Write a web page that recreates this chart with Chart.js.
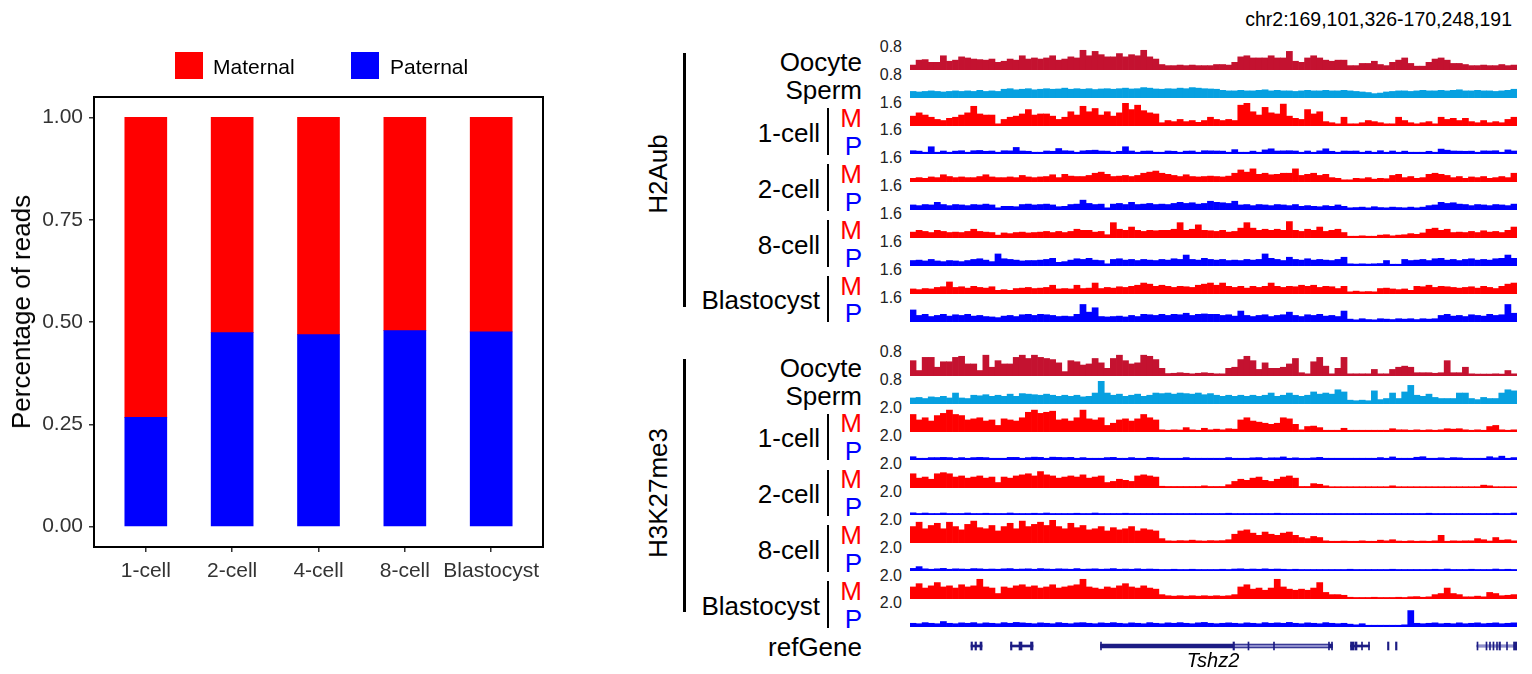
<!DOCTYPE html>
<html>
<head>
<meta charset="utf-8">
<script src="https://cdn.jsdelivr.net/npm/chart.js@4.4.1/dist/chart.umd.min.js"></script>
<style>
  html, body { margin: 0; padding: 0; background: #fff; }
  #fig { position: relative; width: 1532px; height: 674px; overflow: hidden;
         font-family: 'Liberation Sans', Arial, sans-serif; color: #000; }
  #fig canvas { position: absolute; display: block; }
  .t { position: absolute; white-space: nowrap; line-height: 1; }
  .rule { position: absolute; background: #000; }
</style>
</head>
<body>
<div id="fig"></div>
<script>
// ---------- Parental read share per stage ----------
const stages = ['1-cell', '2-cell', '4-cell', '8-cell', 'Blastocyst'];
const paternal = [0.267, 0.474, 0.469, 0.479, 0.476];
const maternal = [0.733, 0.526, 0.531, 0.521, 0.524];
const yTicks = [0, 0.25, 0.5, 0.75, 1];

// ---------- Browser view ----------
const region = 'chr2:169,101,326-170,248,191';
const regionStart = 169.101326, regionEnd = 170.248191;   // Mb
const stageLabels = ['1-cell', '2-cell', '8-cell', 'Blastocyst'];

// H2Aub signal, 100 bins across the region
const h2aOocyte = [.14,.32,.34,.24,.24,.48,.28,.32,.44,.4,.36,.34,.32,.36,.24,.28,.36,.32,.48,.36,.4,.36,.4,.48,.32,.36,.44,.4,.68,.48,.64,.52,.44,.44,.56,.44,.52,.48,.68,.44,.36,.16,.12,.12,.14,.12,.14,.12,.12,.12,
  .16,.16,.14,.24,.44,.48,.4,.4,.4,.48,.4,.4,.64,.28,.24,.4,.48,.4,.32,.28,.32,.32,.12,.12,.2,.2,.28,.16,.12,.24,.32,.4,.2,.1,.1,.24,.36,.4,.32,.2,.2,.16,.12,.12,.14,.12,.12,.16,.12,.14];
const h2aSperm = [.2,.18,.2,.22,.2,.18,.2,.22,.2,.22,.2,.24,.2,.22,.2,.28,.3,.26,.28,.3,.26,.28,.3,.28,.29,.32,.28,.3,.28,.3,.27,.29,.3,.28,.3,.32,.29,.3,.34,.32,.29,.28,.3,.29,.32,.3,.34,.32,.3,.29,
  .28,.24,.22,.22,.24,.22,.22,.24,.26,.22,.24,.22,.22,.2,.22,.24,.22,.22,.24,.22,.22,.24,.22,.2,.18,.16,.12,.14,.18,.2,.22,.22,.2,.22,.24,.22,.22,.24,.22,.24,.26,.22,.22,.24,.22,.22,.2,.22,.24,.28];
const h2a1cM = [.64,.88,.72,.56,.4,.32,.48,.56,.72,.88,1.36,.8,.72,.72,.08,.4,.56,.64,.8,1.12,.72,.8,.8,.64,.4,.56,.96,.72,1.36,.96,1.2,.72,.96,.64,.88,1.6,1.12,1.44,1.04,.88,.8,.16,.32,.24,.4,.24,.32,.19,.32,.56,
  .4,.32,.4,.32,1.44,1.6,.96,.72,1.28,.88,.8,1.52,.64,.48,.4,1.12,.8,.96,.24,.16,.08,.56,.08,.08,.16,.32,.24,.16,.08,.08,.56,.32,.16,.08,.16,.24,.08,.56,.4,.48,.32,.48,.24,.16,.32,.16,.24,.16,.4,.56];
const h2a1cP = [.16,.13,.05,.45,.05,.14,.05,.13,.16,.05,.16,.18,.12,.14,.05,.16,.15,.4,.14,.12,.05,.05,.14,.12,.32,.16,.14,.05,.15,.18,.2,.14,.13,.05,.12,.45,.14,.05,.13,.14,.05,.05,.14,.12,.05,.13,.14,.05,.16,.15,
  .14,.13,.05,.24,.05,.05,.13,.05,.22,.3,.14,.15,.16,.14,.05,.14,.05,.15,.3,.12,.05,.14,.13,.14,.05,.13,.05,.16,.05,.14,.05,.13,.05,.05,.05,.12,.05,.28,.2,.14,.13,.12,.13,.05,.15,.14,.16,.05,.22,.14];
const h2a2cM = [.19,.24,.19,.29,.24,.45,.32,.24,.29,.24,.24,.32,.45,.29,.24,.24,.29,.24,.4,.29,.24,.29,.32,.45,.24,.48,.35,.32,.32,.4,.56,.64,.48,.32,.35,.4,.32,.4,.56,.64,.72,.56,.48,.4,.32,.45,.32,.29,.32,.35,
  .32,.29,.35,.56,.8,.64,.88,.48,.56,.45,.48,.56,.56,.88,.4,.48,.56,.4,.48,.24,.19,.08,.08,.19,.16,.24,.13,.19,.16,.4,.48,.24,.32,.19,.24,.48,.56,.48,.4,.24,.32,.19,.29,.24,.32,.19,.24,.32,.24,.56];
const h2a2cP = [.29,.24,.32,.29,.48,.32,.24,.32,.29,.24,.32,.29,.35,.29,.08,.19,.19,.16,.32,.35,.29,.32,.35,.29,.16,.19,.32,.35,.64,.4,.32,.35,.08,.35,.4,.32,.48,.32,.35,.4,.32,.35,.32,.4,.48,.4,.45,.35,.4,.56,
  .48,.45,.4,.56,.29,.32,.24,.32,.29,.24,.32,.29,.24,.32,.19,.24,.19,.16,.24,.19,.29,.19,.08,.1,.13,.08,.16,.1,.08,.13,.1,.08,.13,.08,.13,.24,.29,.48,.4,.45,.35,.32,.24,.32,.29,.24,.32,.29,.24,.35];
const h2a8cM = [.35,.48,.4,.32,.48,.4,.32,.35,.32,.4,.56,.4,.35,.32,.13,.29,.24,.32,.35,.29,.32,.35,.4,.32,.4,.32,.4,.56,.48,.48,.35,.4,.16,1.04,.56,.48,.72,.48,.4,.48,.45,.48,.48,.56,1.04,.48,.56,.88,.48,.45,
  .4,.48,.35,.4,.64,1.04,.64,.48,.56,.48,.56,.48,1.12,.48,.4,.56,.48,.72,.4,.48,.56,.32,.05,.05,.08,.05,.05,.13,.16,.08,.13,.16,.24,.19,.29,.56,.64,.48,.56,.32,.35,.32,.4,.32,.45,.35,.4,.32,.48,.72];
const h2a8cP = [.32,.35,.29,.4,.29,.24,.32,.29,.24,.32,.4,.45,.35,.24,.8,.45,.4,.35,.29,.32,.32,.35,.4,.48,.19,.24,.35,.45,.4,.48,.35,.32,.08,.4,.45,.35,.4,.32,.4,.35,.32,.4,.35,.45,.4,.72,.4,.35,.48,.4,
  .35,.4,.32,.35,.32,.4,.35,.4,.8,.48,.4,.32,.56,.4,.35,.45,.35,.4,.35,.32,.4,.56,.08,.06,.08,.06,.08,.1,.32,.05,.05,.4,.32,.35,.4,.32,.45,.48,.35,.4,.32,.4,.45,.35,.4,.35,.45,.48,.72,.48];
const h2aBlM = [.29,.24,.32,.29,.4,.45,.8,.4,.45,.35,.48,.4,.35,.45,.19,.24,.19,.32,.35,.4,.32,.35,.4,.56,.29,.32,.29,.56,.32,.35,.72,.32,.4,.35,.45,.4,.48,.56,.72,.64,.48,.56,.48,.4,.48,.45,.4,.56,.64,.72,
  .56,.72,.48,.4,.48,.35,.48,.4,.48,.72,.48,.4,.48,.45,.56,.48,.56,.4,.48,.45,.32,.48,.08,.13,.08,.1,.08,.32,.35,.29,.24,.29,.19,.48,.45,.56,.4,.48,.45,.4,.35,.4,.45,.35,.48,.4,.32,.48,.64,.72];
const h2aBlP = [.8,.4,.48,.32,.4,.48,.35,.45,.4,.48,.35,.4,.32,.29,.24,.35,.4,.32,.45,.48,.4,.48,.45,.4,.32,.35,.32,.48,1.2,.64,.96,.32,.29,.32,.35,.29,.4,.32,.48,.45,.4,.48,.4,.48,.45,.56,.4,.48,.51,.48,
  .48,.4,.45,.35,.72,.4,.32,.4,.45,.32,.4,.45,.64,.4,.32,.45,.4,.48,.35,.4,.32,.72,.13,.08,.16,.1,.08,.16,.13,.1,.16,.13,.16,.1,.16,.13,.16,.4,.48,.35,.4,.32,.45,.4,.35,.48,.4,.45,1.2,.56];

// H3K27me3 signal, 100 bins across the region
const k27Oocyte = [.52,.16,.64,.64,.28,.48,.48,.64,.68,.4,.4,.16,.72,.28,.52,.4,.4,.64,.72,.6,.72,.64,.6,.56,.44,.12,.52,.48,.36,.4,.6,.44,.24,.6,.72,.52,.4,.44,.72,.68,.56,.24,.05,.06,.08,.06,.04,.06,.08,.06,
  .04,.04,.24,.28,.56,.68,.52,.2,.44,.24,.24,.28,.4,.6,.08,.04,.48,.64,.32,.04,.24,.64,.04,.04,.04,.04,.2,.04,.04,.2,.28,.32,.28,.08,.08,.08,.06,.08,.52,.08,.08,.28,.04,.03,.03,.03,.04,.03,.16,.04];
const k27Sperm = [.18,.2,.16,.22,.2,.24,.18,.36,.18,.16,.28,.26,.3,.24,.28,.24,.32,.24,.34,.32,.3,.28,.32,.28,.24,.28,.24,.28,.22,.24,.36,.8,.36,.28,.32,.24,.28,.32,.24,.28,.36,.34,.36,.32,.36,.34,.32,.36,.3,.34,
  .28,.24,.28,.24,.28,.24,.28,.24,.28,.36,.24,.28,.36,.28,.24,.28,.4,.32,.36,.32,.48,.4,.1,.08,.1,.08,.44,.12,.16,.36,.16,.4,.64,.28,.24,.32,.2,.16,.16,.16,.36,.36,.16,.12,.2,.16,.16,.36,.48,.44];
const k271cM = [1.5,1.0,1.2,.9,1.4,1.6,1.9,1.5,1.4,1.0,1.1,1.2,.9,1.0,.5,1.1,1.0,.9,1.2,1.7,1.9,1.6,1.7,1.8,1.0,1.1,.9,1.2,1.9,1.1,1.0,1.2,.5,.7,1.0,1.1,.9,1.1,1.5,1.2,1.0,.1,.06,.1,.08,.3,.1,.06,.24,.1,
  .16,.1,.2,.16,1.0,1.2,.9,.8,.7,.6,.7,1.2,1.1,.6,.1,.4,.44,.3,.06,.06,.06,.24,.06,.06,.06,.06,.06,.06,.06,.2,.1,.1,.06,.1,.06,.1,.06,.1,.2,.16,.2,.1,.06,.1,.06,.4,.5,.1,.06,.1];
const k271cP = [.2,.06,.06,.12,.12,.14,.12,.06,.12,.06,.12,.14,.12,.06,.06,.06,.14,.14,.06,.12,.16,.14,.06,.16,.14,.12,.14,.06,.12,.06,.06,.06,.12,.14,.06,.06,.12,.06,.06,.14,.12,.06,.06,.06,.06,.12,.06,.06,.06,.06,
  .06,.06,.12,.06,.06,.06,.1,.12,.06,.1,.1,.18,.06,.1,.06,.06,.1,.14,.06,.06,.06,.06,.06,.06,.06,.06,.06,.12,.06,.18,.06,.06,.06,.15,.2,.06,.06,.1,.06,.12,.1,.06,.06,.06,.06,.2,.1,.25,.06,.12];
const k272cM = [1.2,.8,.9,.7,1.2,1.3,1.2,.9,1.0,.8,.9,1.0,.8,.9,.4,.9,.8,1.0,1.1,1.2,1.0,1.4,1.1,1.0,.8,.9,1.0,.9,1.1,.8,.9,1.0,.4,.5,.7,.6,.5,1.0,1.1,1.0,.9,.06,.04,.04,.04,.04,.04,.04,.1,.04,
  .04,.04,.2,.5,.7,.6,.8,.9,.6,.5,.7,.9,1.0,.8,.04,.04,.3,.24,.1,.02,.02,.02,.02,.02,.02,.02,.02,.02,.02,.1,.02,.02,.02,.02,.02,.02,.02,.02,.02,.02,.02,.02,.02,.02,.16,.1,.02,.02,.02,.02];
const k272cP = [.1,.04,.08,.04,.04,.08,.04,.04,.04,.08,.04,.04,.06,.04,.04,.04,.08,.04,.04,.04,.06,.04,.08,.04,.04,.04,.04,.06,.04,.04,.08,.04,.04,.04,.04,.06,.04,.04,.04,.04,.04,.04,.04,.04,.04,.04,.04,.04,.04,.04,
  .04,.04,.06,.04,.04,.04,.04,.04,.04,.04,.06,.04,.04,.04,.04,.04,.04,.04,.04,.04,.04,.04,.04,.04,.04,.04,.04,.04,.04,.04,.04,.04,.04,.04,.04,.06,.04,.04,.04,.04,.04,.04,.04,.04,.04,.04,.06,.04,.04,.08];
const k278cM = [1.4,1.8,1.2,1.5,1.7,1.2,1.8,1.4,1.1,1.6,1.9,1.3,1.2,1.5,1.0,1.4,1.7,1.2,1.9,1.4,1.6,1.8,1.5,2.0,1.4,1.2,1.7,1.3,1.5,1.1,1.2,1.4,1.0,1.3,1.1,1.2,1.4,1.0,1.2,1.1,1.0,.3,.1,.08,.12,.1,.16,.1,.08,.12,
  .1,.12,.2,.7,1.0,1.1,.8,.6,.9,.7,.6,.8,.9,.6,.4,.3,.5,.4,.1,.06,.06,.08,.06,.06,.1,.06,.06,.16,.1,.2,.08,.06,.1,.06,.08,.06,.1,.6,.06,.1,.08,.1,.1,.3,.2,.08,.4,.16,.2,.1];
const k278cP = [.14,.3,.1,.06,.1,.14,.06,.1,.08,.06,.12,.1,.06,.08,.06,.1,.12,.06,.08,.1,.06,.12,.08,.06,.1,.08,.06,.12,.06,.08,.1,.06,.08,.12,.06,.08,.06,.1,.06,.08,.06,.04,.04,.06,.04,.04,.06,.04,.04,.04,
  .04,.06,.04,.08,.1,.06,.08,.06,.1,.06,.08,.06,.04,.06,.04,.04,.04,.04,.04,.04,.04,.04,.06,.04,.04,.04,.04,.04,.04,.06,.04,.04,.04,.04,.04,.04,.06,.04,.08,.04,.04,.04,.06,.04,.04,.04,.08,.04,.06,.04];
const k27BlM = [1.0,1.3,.9,1.1,1.4,1.0,1.1,.9,1.2,1.0,1.1,1.7,1.0,.9,.4,1.0,.9,1.1,1.2,1.0,1.1,.9,1.0,1.2,.9,1.0,1.1,1.2,1.7,1.0,.9,.8,1.0,.9,1.1,1.3,1.0,.9,1.1,.9,.8,.3,.2,.16,.2,.16,.2,.16,.2,.16,
  .2,.16,.2,.3,1.0,1.2,.8,.9,.7,.9,1.7,1.0,.8,.7,.8,.7,.9,1.4,.5,.3,.3,.24,.06,.04,.04,.04,.06,.04,.04,.04,.06,.04,.1,.12,.06,.1,.3,.4,.9,.4,.3,.1,.1,.16,.1,.5,.4,.2,.24,.3];
const k27BlP = [.24,.2,.3,.24,.2,.4,.24,.2,.28,.24,.3,.2,.28,.24,.2,.3,.24,.32,.28,.24,.2,.28,.24,.2,.3,.24,.2,.28,.3,.24,.2,.28,.24,.3,.24,.2,.28,.24,.2,.3,.24,.2,.28,.24,.3,.24,.2,.28,.32,.24,
  .2,.24,.28,.24,.2,.28,.24,.2,.3,.24,.28,.24,.32,.24,.2,.28,.24,.2,.3,.24,.2,.24,.16,.1,.2,.06,.06,.06,.06,.06,.06,.1,1.4,.24,.2,.24,.28,.2,.24,.2,.28,.2,.24,.28,.2,.24,.28,.2,.24,.28];

// refGene models (Mb): connecting lines, Tshz2 body, lighter inner segments, exons
const geneLines = [[169.2166,169.2374],[169.2912,169.3337],[169.9336,169.9695],[170.1726,170.2482]];
const tshz2Body = [[169.4613,169.8996]];
const geneInner = [[169.7144,169.8920],[170.1745,170.2416]];
const geneExons = [[169.2166,169.2194],[169.2241,169.2270],[169.2336,169.2374],
  [169.2912,169.2940],[169.3073,169.3129],[169.3290,169.3337],
  [169.4613,169.4631],[169.7116,169.7144],[169.7399,169.7418],[169.7881,169.7900],[169.8920,169.8939],[169.8977,169.8996],
  [169.9336,169.9402],[169.9421,169.9459],[169.9544,169.9563],[169.9676,169.9695],
  [170.0035,170.0063],[170.0186,170.0215],
  [170.1726,170.1745],[170.1896,170.1915],[170.1962,170.1981],[170.2028,170.2047],[170.2095,170.2113],[170.2142,170.2170],[170.2284,170.2302],[170.2416,170.2482]];

// ---------- colours ----------
const RED = '#FF0000', BLUE = '#0000FF', OOCYTE = '#C41230', SPERM = '#07A0E0', NAVY = '#1C1C84';

Chart.defaults.font.family = "'Liberation Sans', Arial, sans-serif";

const fig = document.getElementById('fig');
function addCanvas(x, y, w, h) {
  const c = document.createElement('canvas');
  c.width = w; c.height = h;
  c.style.left = x + 'px'; c.style.top = y + 'px';
  c.style.width = w + 'px'; c.style.height = h + 'px';
  fig.appendChild(c);
  return c;
}
function addText(str, x, y, size, opts = {}) {
  const d = document.createElement('div');
  d.className = 't';
  d.textContent = str;
  d.style.fontSize = size + 'px';
  d.style.left = x + 'px';
  d.style.top = y + 'px';
  const ax = opts.align === 'right' ? '-100%' : opts.align === 'center' ? '-50%' : '0';
  d.style.transform = opts.rotate ? 'translate(-50%,-50%) rotate(-90deg)' : `translate(${ax},-50%)`;
  if (opts.color) d.style.color = opts.color;
  if (opts.italic) d.style.fontStyle = 'italic';
  fig.appendChild(d);
}
function addRule(x, y, w, h, color) {
  const d = document.createElement('div');
  d.className = 'rule';
  Object.assign(d.style, { left: x + 'px', top: y + 'px', width: w + 'px', height: h + 'px' });
  if (color) d.style.background = color;
  fig.appendChild(d);
}

// ---------- left: stacked share of reads ----------
const panelFrame = {
  id: 'panelFrame',
  afterDraw(chart) {
    const { ctx, chartArea: a } = chart;
    ctx.save();
    ctx.strokeStyle = '#000';
    ctx.lineWidth = 2;
    ctx.strokeRect(a.left, a.top, a.right - a.left, a.bottom - a.top);
    ctx.restore();
  }
};
const tickGrid = { drawOnChartArea: false, drawTicks: true, tickLength: 5, color: '#333', lineWidth: 1.5, offset: false };

new Chart(addCanvas(0, 0, 560, 620), {
  type: 'bar',
  data: {
    datasets: [
      { label: 'Paternal', data: paternal.map((v, i) => ({ x: i + 1, y: v })), backgroundColor: BLUE, barThickness: 42, borderWidth: 0 },
      { label: 'Maternal', data: maternal.map((v, i) => ({ x: i + 1, y: v })), backgroundColor: RED, barThickness: 42, borderWidth: 0 }
    ]
  },
  options: {
    responsive: false, animation: false, events: [],
    layout: { padding: { top: 97, right: 17, left: 0, bottom: 0 } },
    plugins: { legend: { display: false }, tooltip: { enabled: false } },
    scales: {
      x: {
        type: 'linear', stacked: true, min: 0.4, max: 5.6, offset: false,
        afterBuildTicks: s => { s.ticks = stages.map((_, i) => ({ value: i + 1 })); },
        afterFit: s => { s.height = 73; },
        ticks: { callback: v => stages[Math.round(v) - 1], color: '#333', font: { size: 21 }, padding: 7, autoSkip: false, maxRotation: 0 },
        grid: tickGrid, border: { display: false }
      },
      y: {
        stacked: true, min: -0.05, max: 1.05,
        afterBuildTicks: s => { s.ticks = yTicks.map(v => ({ value: v })); },
        afterFit: s => { s.width = 94; },
        ticks: { callback: v => v.toFixed(2), color: '#333', font: { size: 21 }, padding: 6 },
        grid: tickGrid, border: { display: false }
      }
    }
  },
  plugins: [panelFrame]
});

// legend and axis title
addRule(175, 52, 28, 27, RED);
addText('Maternal', 213, 65.5, 21);
addRule(351, 52, 28, 27, BLUE);
addText('Paternal', 390, 65.5, 21);
addText('Percentage of reads', 21, 312, 26, { rotate: true });

// ---------- right: signal tracks ----------
const TRACK_LEFT = 910, TRACK_W = 607, TRACK_STEP = 27.95;

function drawTrack(canvas, values, max, color) {
  const floor = -max / 20;
  new Chart(canvas, {
    type: 'bar',
    data: {
      labels: values.map((_, i) => i),
      datasets: [{ data: values, backgroundColor: color, borderWidth: 0, barPercentage: 1, categoryPercentage: 1, base: floor }]
    },
    options: {
      responsive: false, animation: false, events: [],
      layout: { padding: 0 },
      plugins: { legend: { display: false }, tooltip: { enabled: false } },
      scales: { x: { display: false }, y: { display: false, min: floor, max: max } }
    }
  });
}

const groups = [
  { name: 'H2Aub', center: 174, first: 69.4, tracks: [
    [h2aOocyte, 0.8, OOCYTE], [h2aSperm, 0.8, SPERM],
    [h2a1cM, 1.6, RED], [h2a1cP, 1.6, BLUE], [h2a2cM, 1.6, RED], [h2a2cP, 1.6, BLUE],
    [h2a8cM, 1.6, RED], [h2a8cP, 1.6, BLUE], [h2aBlM, 1.6, RED], [h2aBlP, 1.6, BLUE]] },
  { name: 'H3K27me3', center: 492.5, first: 374.7, tracks: [
    [k27Oocyte, 0.8, OOCYTE], [k27Sperm, 0.8, SPERM],
    [k271cM, 2.0, RED], [k271cP, 2.0, BLUE], [k272cM, 2.0, RED], [k272cP, 2.0, BLUE],
    [k278cM, 2.0, RED], [k278cP, 2.0, BLUE], [k27BlM, 2.0, RED], [k27BlP, 2.0, BLUE]] }
];

groups.forEach(g => {
  const base = k => g.first + k * TRACK_STEP;
  g.tracks.forEach(([values, max, color], k) => {
    const b = base(k);
    drawTrack(addCanvas(TRACK_LEFT, Math.round(b - 22), TRACK_W, 23), values, max, color);
    addText(max.toFixed(1), 902, b - 22.8, 16, { align: 'right', color: '#222' });
  });
  addText('Oocyte', 862, base(0) - 7, 26, { align: 'right' });
  addText('Sperm', 862, base(1) - 7, 26, { align: 'right' });
  stageLabels.forEach((s, j) => {
    const bM = base(2 + 2 * j), bP = base(3 + 2 * j);
    addText(s, 820, (bM + bP) / 2 - 6.5, 26, { align: 'right' });
    addRule(826.5, bM - 17, 2.5, bP - bM + 18.5);
    addText('M', 862, bM - 7.5, 26, { align: 'right', color: RED });
    addText('P', 862, bP - 7.5, 26, { align: 'right', color: BLUE });
  });
  addRule(683.3, base(0) - 16, 2.4, base(9) - base(0) + 2);
  addText(g.name, 658, g.center, 26, { rotate: true });
});

// ---------- refGene ----------
const seg = (list) => list.map(r => ({ x: r, y: 'refGene' }));
new Chart(addCanvas(TRACK_LEFT, 636, TRACK_W, 20), {
  type: 'bar',
  data: {
    labels: ['refGene'],
    datasets: [
      { data: seg(geneLines), backgroundColor: NAVY, barThickness: 2, grouped: false, order: 4, borderWidth: 0 },
      { data: seg(tshz2Body), backgroundColor: NAVY, barThickness: 4, grouped: false, order: 3, borderWidth: 0 },
      { data: seg(geneInner), backgroundColor: '#8E8ECC', barThickness: 2, grouped: false, order: 2, borderWidth: 0 },
      { data: seg(geneExons), backgroundColor: NAVY, barThickness: 8, grouped: false, order: 1, borderWidth: 0 }
    ]
  },
  options: {
    indexAxis: 'y', responsive: false, animation: false, events: [],
    layout: { padding: 0 },
    plugins: { legend: { display: false }, tooltip: { enabled: false } },
    scales: {
      x: { type: 'linear', display: false, min: regionStart, max: regionEnd },
      y: { display: false }
    }
  }
});
addText('refGene', 862, 647, 26, { align: 'right' });
addText('Tshz2', 1213, 660, 20, { align: 'center', italic: true });
addText(region, 1512, 20, 19.5, { align: 'right' });
</script>
</body>
</html>
